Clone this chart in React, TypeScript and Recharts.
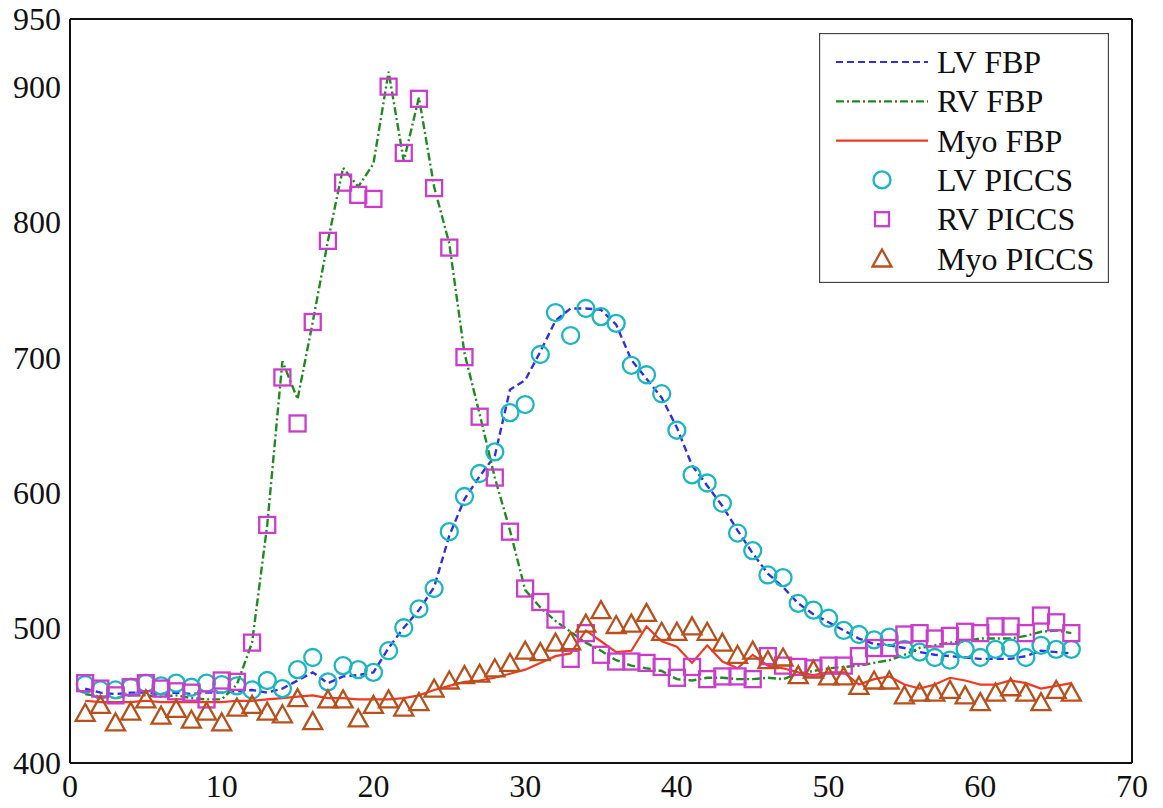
import React from 'react';
import { ComposedChart, Line, Scatter, XAxis, YAxis, Legend } from 'recharts';

// frame index (x) and signal values
const frames = [
  1, 2, 3, 4, 5, 6, 7, 8, 9, 10, 11, 12, 13, 14, 15, 16, 17, 18, 19, 20, 21, 22,
  23, 24, 25, 26, 27, 28, 29, 30, 31, 32, 33, 34, 35, 36, 37, 38, 39, 40, 41, 42, 43, 44,
  45, 46, 47, 48, 49, 50, 51, 52, 53, 54, 55, 56, 57, 58, 59, 60, 61, 62, 63, 64, 65, 66,
];

const lvFbp = [
  455, 452, 451, 452, 452, 451, 452, 451, 452, 452, 453, 454, 452, 455, 461, 467, 459, 464, 465, 467, 485, 500,
  513, 530, 568, 595, 612, 627, 676, 683, 704, 727, 736, 736, 735, 724, 698, 684, 670, 648, 620, 605, 590, 572,
  555, 540, 530, 518, 510, 504, 498, 492, 488, 487, 485, 482, 480, 479, 478, 477, 477, 477, 479, 483, 482, 481,
];

const rvFbp = [
  451, 449, 448, 450, 450, 449, 450, 448, 447, 447, 458, 489, 576, 697, 669, 726, 786, 840, 826, 843, 911, 845,
  892, 826, 784, 703, 658, 611, 572, 528, 515, 505, 497, 489, 483, 476, 472, 470, 468, 462, 461, 463, 463, 462,
  462, 463, 462, 466, 468, 470, 471, 472, 474, 476, 480, 485, 487, 489, 490, 492, 492, 492, 494, 497, 498, 496,
];

const myoFbp = [
  446, 445, 445, 445, 446, 445, 445, 445, 445, 445, 446, 446, 447, 448, 449, 450, 448, 448, 447, 447, 447, 448,
  450, 454, 457, 460, 461, 463, 466, 469, 474, 479, 481, 498, 490, 482, 483, 501, 490, 486, 474, 487, 475, 470,
  480, 472, 470, 467, 465, 467, 467, 458, 462, 464, 458, 455, 458, 463, 461, 458, 458, 461, 459, 455, 457, 459,
];

const lvPiccs = [
  458, 454, 454, 456, 459, 457, 459, 456, 459, 458, 457, 454, 461, 455, 469, 478, 460, 472, 469, 467, 483, 500,
  514, 529, 571, 597, 614, 630, 659, 665, 702, 733, 716, 736, 730, 725, 694, 687, 673, 646, 613, 607, 592, 570,
  557, 539, 537, 518, 513, 507, 498, 495, 491, 493, 484, 482, 478, 476, 484, 478, 484, 485, 478, 487, 484, 484,
];

const rvPiccs = [
  459, 455, 450, 456, 459, 455, 453, 452, 447, 461, 460, 489, 576, 685, 651, 726, 786, 829, 820, 817, 900, 851,
  891, 825, 781, 700, 656, 611, 571, 529, 519, 506, 477, 496, 480, 475, 475, 474, 471, 463, 471, 462, 464, 464,
  462, 479, 472, 471, 470, 472, 472, 479, 485, 485, 495, 496, 492, 494, 497, 496, 501, 501, 496, 509, 504, 496,
];

const myoPiccs = [
  437, 443, 430, 438, 447, 435, 440, 432, 438, 430, 441, 443, 438, 436, 448, 431, 447, 447, 433, 443, 447, 441,
  445, 455, 461, 465, 466, 470, 474, 483, 482, 489, 490, 503, 513, 502, 503, 511, 497, 497, 501, 497, 489, 480,
  483, 476, 478, 465, 469, 464, 464, 457, 461, 461, 450, 452, 452, 454, 450, 445, 452, 456, 452, 445, 454, 452,
];

const xTicks = [0, 10, 20, 30, 40, 50, 60, 70];
const yTicks = [400, 500, 600, 700, 800, 900, 950];

const data = frames.map((x, i) => ({
  x,
  lvFbp: lvFbp[i],
  rvFbp: rvFbp[i],
  myoFbp: myoFbp[i],
  lvPiccs: lvPiccs[i],
  rvPiccs: rvPiccs[i],
  myoPiccs: myoPiccs[i],
}));

const BLUE = '#2f2fe6';
const GREEN = '#1f8a1f';
const RED = '#f23a22';
const CYAN = '#1ab6c2';
const MAGENTA = '#cc3ccc';
const BROWN = '#b9501c';

const FONT = '"Liberation Serif", "Times New Roman", serif';

const CircleDot = (p: any) => (
  <circle cx={p.cx} cy={p.cy} r={8.5} fill="none" stroke={CYAN} strokeWidth={2.3} />
);
const SquareDot = (p: any) => (
  <rect x={p.cx - 8} y={p.cy - 8} width={16} height={16} fill="none" stroke={MAGENTA} strokeWidth={2.3} />
);
const TriangleDot = (p: any) => (
  <polygon
    points={`${p.cx},${p.cy - 9} ${p.cx - 9.5},${p.cy + 8} ${p.cx + 9.5},${p.cy + 8}`}
    fill="none"
    stroke={BROWN}
    strokeWidth={2.3}
  />
);

const legendRows = [
  { name: 'LV FBP', kind: 'line', color: BLUE, dash: '7 4' },
  { name: 'RV FBP', kind: 'line', color: GREEN, dash: '8 3 2 3' },
  { name: 'Myo FBP', kind: 'line', color: RED, dash: '' },
  { name: 'LV PICCS', kind: 'circle', color: CYAN, dash: '' },
  { name: 'RV PICCS', kind: 'square', color: MAGENTA, dash: '' },
  { name: 'Myo PICCS', kind: 'triangle', color: BROWN, dash: '' },
];

const LegendBox = () => (
  <svg width={290} height={250} style={{ display: 'block' }}>
    <rect x={0.5} y={0.5} width={289} height={249} fill="#fff" stroke="#444" strokeWidth={1.3} />
    {legendRows.map((r, i) => {
      const cy = 29 + i * 39.3;
      let mark = null;
      if (r.kind === 'line') {
        mark = <line x1={17} x2={109} y1={cy} y2={cy} stroke={r.color} strokeWidth={2.2} strokeDasharray={r.dash || undefined} />;
      } else if (r.kind === 'circle') {
        mark = <CircleDot cx={63} cy={cy} />;
      } else if (r.kind === 'square') {
        mark = <rect x={56} y={cy - 7} width={14} height={14} fill="none" stroke={r.color} strokeWidth={2.3} />;
      } else {
        mark = <TriangleDot cx={63} cy={cy} />;
      }
      return (
        <g key={r.name}>
          {mark}
          <text x={118} y={cy} dominantBaseline="central" fontFamily={FONT} fontSize={32} fill="#111">
            {r.name}
          </text>
        </g>
      );
    })}
  </svg>
);

export default function App() {
  return (
    <div style={{ position: 'absolute', left: 0, top: 0, background: '#fff' }}>
      <ComposedChart
        width={1163}
        height={808}
        data={data}
        margin={{ top: 19, right: 31, bottom: 0, left: 0 }}
        style={{ fontFamily: FONT }}
      >
        <XAxis
          xAxisId="x"
          dataKey="x"
          type="number"
          domain={[0, 70]}
          ticks={xTicks}
          allowDataOverflow
          height={45}
          tickLine={false}
          tickSize={0}
          tickMargin={11}
          axisLine={{ stroke: '#111', strokeWidth: 2 }}
          tick={{ fill: '#111', fontSize: 32, fontFamily: FONT }}
        />
        <XAxis
          xAxisId="xb"
          dataKey="x"
          type="number"
          orientation="bottom"
          mirror
          domain={[0, 70]}
          ticks={xTicks}
          allowDataOverflow
          tick={false}
          tickSize={10}
          axisLine={false}
          tickLine={{ stroke: '#111', strokeWidth: 2 }}
        />
        <XAxis
          xAxisId="xt"
          dataKey="x"
          type="number"
          orientation="top"
          mirror
          domain={[0, 70]}
          ticks={xTicks}
          allowDataOverflow
          tick={false}
          tickSize={10}
          axisLine={{ stroke: '#111', strokeWidth: 2 }}
          tickLine={{ stroke: '#111', strokeWidth: 2 }}
        />
        <YAxis
          yAxisId="y"
          type="number"
          domain={[400, 950]}
          ticks={yTicks}
          allowDataOverflow
          width={70}
          tickLine={false}
          tickSize={0}
          tickMargin={9}
          axisLine={{ stroke: '#111', strokeWidth: 2 }}
          tick={{ fill: '#111', fontSize: 32, fontFamily: FONT }}
        />
        <YAxis
          yAxisId="yl"
          type="number"
          orientation="left"
          mirror
          domain={[400, 950]}
          ticks={yTicks}
          allowDataOverflow
          tick={false}
          tickSize={10}
          axisLine={false}
          tickLine={{ stroke: '#111', strokeWidth: 2 }}
        />
        <YAxis
          yAxisId="yr"
          type="number"
          orientation="right"
          mirror
          domain={[400, 950]}
          ticks={yTicks}
          allowDataOverflow
          tick={false}
          tickSize={10}
          axisLine={{ stroke: '#111', strokeWidth: 2 }}
          tickLine={{ stroke: '#111', strokeWidth: 2 }}
        />

        <Line xAxisId="x" yAxisId="y" dataKey="lvFbp" type="linear" stroke={BLUE} strokeWidth={2.4} strokeDasharray="7 4" dot={false} isAnimationActive={false} />
        <Line xAxisId="x" yAxisId="y" dataKey="rvFbp" type="linear" stroke={GREEN} strokeWidth={2.4} strokeDasharray="8 3 2 3" dot={false} isAnimationActive={false} />
        <Line xAxisId="x" yAxisId="y" dataKey="myoFbp" type="linear" stroke={RED} strokeWidth={2.2} dot={false} isAnimationActive={false} />

        <Scatter xAxisId="x" yAxisId="y" dataKey="lvPiccs" shape={CircleDot} isAnimationActive={false} />
        <Scatter xAxisId="x" yAxisId="y" dataKey="rvPiccs" shape={SquareDot} isAnimationActive={false} />
        <Scatter xAxisId="x" yAxisId="y" dataKey="myoPiccs" shape={TriangleDot} isAnimationActive={false} />

        <Legend
          layout="vertical"
          align="center"
          verticalAlign="middle"
          content={() => <LegendBox />}
          wrapperStyle={{ left: 819, top: 33, width: 290, height: 250 }}
        />
      </ComposedChart>
    </div>
  );
}
